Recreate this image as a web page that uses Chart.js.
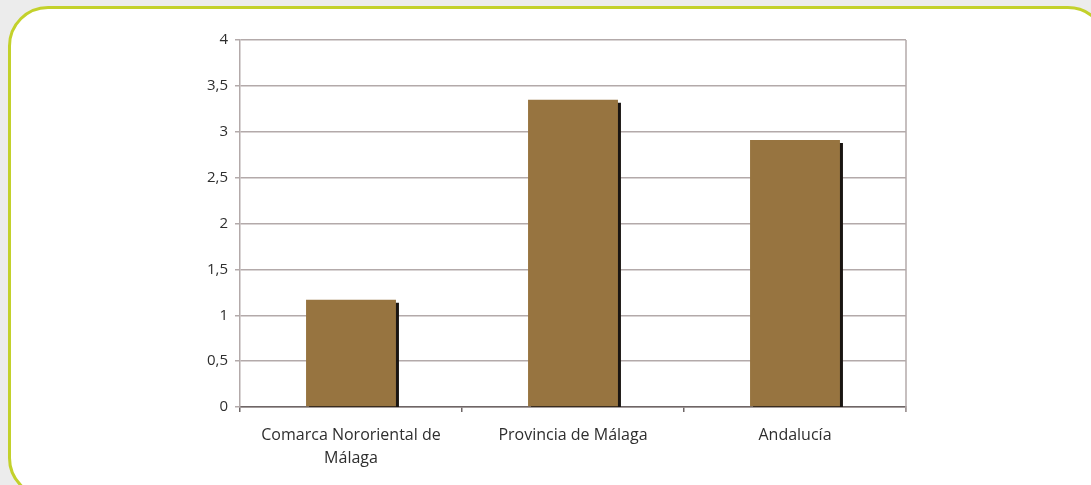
<!DOCTYPE html>
<html>
<head>
<meta charset="utf-8">
<script src="https://cdn.jsdelivr.net/npm/chart.js@4"></script>
<style>
    html, body { margin: 0; padding: 0; }
    body { width: 1091px; height: 485px; background: #ececec; overflow: hidden; position: relative; }
    .panel {
        position: absolute; left: 8px; top: 6px; width: 1100px; height: 492px;
        border: 3px solid #c3d12b; border-radius: 40px; background: #ffffff; box-sizing: border-box;
    }
    #wrap { position: absolute; left: 0; top: 0; width: 1091px; height: 485px; }
</style>
</head>
<body>
<div class="panel"></div>
<div id="wrap"><canvas id="grafico" width="1091" height="485"></canvas></div>
<script>
// datos
const categorias = [['Comarca Nororiental de', 'Málaga'], 'Provincia de Málaga', 'Andalucía'];
const valores = [1.17, 3.35, 2.91];
const ticksY = [0, 0.5, 1, 1.5, 2, 2.5, 3, 3.5, 4];

const colorBarra = '#977440';
const colorRejilla = '#b3aaaa';
const colorTexto = '#2e2e2e';

// sombra negra a la derecha de las barras
const sombraBarras = {
    id: 'sombraBarras',
    beforeDatasetsDraw(chart) {
        const ctx = chart.ctx;
        ctx.save();
        ctx.shadowColor = '#1a1512';
        ctx.shadowOffsetX = 3;
        ctx.shadowOffsetY = 3;
        ctx.shadowBlur = 0;
    },
    afterDatasetsDraw(chart) {
        chart.ctx.restore();
    }
};

// marco derecho del area del grafico
const marco = {
    id: 'marco',
    afterDraw(chart) {
        const a = chart.chartArea;
        const ctx = chart.ctx;
        ctx.save();
        ctx.strokeStyle = colorRejilla;
        ctx.lineWidth = 1.5;
        ctx.beginPath();
        ctx.moveTo(a.right, a.top);
        ctx.lineTo(a.right, a.bottom + 5);
        ctx.stroke();
        ctx.restore();
    }
};

const ctx = document.getElementById('grafico').getContext('2d');
new Chart(ctx, {
    type: 'bar',
    data: {
        labels: categorias,
        datasets: [{
            data: valores,
            backgroundColor: colorBarra,
            borderWidth: 0,
            barPercentage: 0.81,
            categoryPercentage: 0.5
        }]
    },
    options: {
        responsive: false,
        animation: false,
        devicePixelRatio: 1,
        layout: { padding: { top: 40, right: 185, bottom: 0, left: 0 } },
        plugins: {
            legend: { display: false },
            tooltip: { enabled: false }
        },
        scales: {
            x: {
                grid: {
                    offset: true,
                    drawOnChartArea: false,
                    color: '#6e6666',
                    tickLength: 5,
                    lineWidth: 1.5
                },
                border: { color: '#6e6666', width: 1.5 },
                ticks: {
                    color: colorTexto,
                    padding: 12,
                    maxRotation: 0,
                    autoSkip: false,
                    font: { family: 'Open Sans', size: 16, lineHeight: 1.45 }
                },
                afterFit(scale) { scale.height = 78; }
            },
            y: {
                min: 0,
                max: 4,
                afterBuildTicks(scale) {
                    scale.ticks = ticksY.map(v => ({ value: v }));
                },
                grid: {
                    color: colorRejilla,
                    lineWidth: 1.5,
                    tickLength: 5
                },
                border: { color: colorRejilla, width: 1.5 },
                ticks: {
                    color: colorTexto,
                    padding: 7,
                    font: { family: 'Open Sans', size: 15 },
                    callback: v => String(v).replace('.', ',')
                },
                afterFit(scale) { scale.width = 240; }
            }
        }
    },
    plugins: [sombraBarras, marco]
});
</script>
</body>
</html>
